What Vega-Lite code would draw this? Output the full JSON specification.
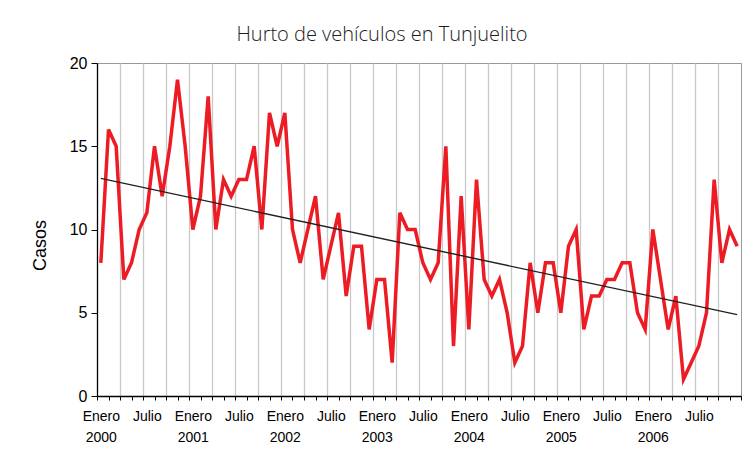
{
  "$schema": "https://vega.github.io/schema/vega-lite/v6.json",
  "autosize": {"type": "none"},
  "width": 644,
  "height": 333,
  "padding": {"left": 97, "top": 63, "right": 14, "bottom": 58},
  "background": "white",
  "config": {
    "view": {"stroke": "#999999", "strokeWidth": 1},
    "font": "Liberation Sans"
  },
  "title": {
    "text": "Hurto de vehículos en Tunjuelito",
    "font": "Open Sans",
    "fontSize": 20,
    "fontWeight": 300,
    "color": "#1a1a1a",
    "anchor": "middle",
    "frame": "group",
    "dx": -37,
    "offset": 10
  },
  "data": {
    "values": [
      {"mes": 0, "casos": 8}, {"mes": 1, "casos": 16}, {"mes": 2, "casos": 15}, {"mes": 3, "casos": 7},
      {"mes": 4, "casos": 8}, {"mes": 5, "casos": 10}, {"mes": 6, "casos": 11}, {"mes": 7, "casos": 15},
      {"mes": 8, "casos": 12}, {"mes": 9, "casos": 15}, {"mes": 10, "casos": 19}, {"mes": 11, "casos": 15},
      {"mes": 12, "casos": 10}, {"mes": 13, "casos": 12}, {"mes": 14, "casos": 18}, {"mes": 15, "casos": 10},
      {"mes": 16, "casos": 13}, {"mes": 17, "casos": 12}, {"mes": 18, "casos": 13}, {"mes": 19, "casos": 13},
      {"mes": 20, "casos": 15}, {"mes": 21, "casos": 10}, {"mes": 22, "casos": 17}, {"mes": 23, "casos": 15},
      {"mes": 24, "casos": 17}, {"mes": 25, "casos": 10}, {"mes": 26, "casos": 8}, {"mes": 27, "casos": 10},
      {"mes": 28, "casos": 12}, {"mes": 29, "casos": 7}, {"mes": 30, "casos": 9}, {"mes": 31, "casos": 11},
      {"mes": 32, "casos": 6}, {"mes": 33, "casos": 9}, {"mes": 34, "casos": 9}, {"mes": 35, "casos": 4},
      {"mes": 36, "casos": 7}, {"mes": 37, "casos": 7}, {"mes": 38, "casos": 2}, {"mes": 39, "casos": 11},
      {"mes": 40, "casos": 10}, {"mes": 41, "casos": 10}, {"mes": 42, "casos": 8}, {"mes": 43, "casos": 7},
      {"mes": 44, "casos": 8}, {"mes": 45, "casos": 15}, {"mes": 46, "casos": 3}, {"mes": 47, "casos": 12},
      {"mes": 48, "casos": 4}, {"mes": 49, "casos": 13}, {"mes": 50, "casos": 7}, {"mes": 51, "casos": 6},
      {"mes": 52, "casos": 7}, {"mes": 53, "casos": 5}, {"mes": 54, "casos": 2}, {"mes": 55, "casos": 3},
      {"mes": 56, "casos": 8}, {"mes": 57, "casos": 5}, {"mes": 58, "casos": 8}, {"mes": 59, "casos": 8},
      {"mes": 60, "casos": 5}, {"mes": 61, "casos": 9}, {"mes": 62, "casos": 10}, {"mes": 63, "casos": 4},
      {"mes": 64, "casos": 6}, {"mes": 65, "casos": 6}, {"mes": 66, "casos": 7}, {"mes": 67, "casos": 7},
      {"mes": 68, "casos": 8}, {"mes": 69, "casos": 8}, {"mes": 70, "casos": 5}, {"mes": 71, "casos": 4},
      {"mes": 72, "casos": 10}, {"mes": 73, "casos": 7}, {"mes": 74, "casos": 4}, {"mes": 75, "casos": 6},
      {"mes": 76, "casos": 1}, {"mes": 77, "casos": 2}, {"mes": 78, "casos": 3}, {"mes": 79, "casos": 5},
      {"mes": 80, "casos": 13}, {"mes": 81, "casos": 8}, {"mes": 82, "casos": 10}, {"mes": 83, "casos": 9}
    ]
  },
  "encoding": {
    "x": {
      "field": "mes",
      "type": "quantitative",
      "scale": {"domain": [-0.5, 83.5], "nice": false, "zero": false},
      "axis": {
        "title": null,
        "values": [-0.5, 0, 1, 2.5, 4, 5.5, 6, 7, 8.5, 10, 11.5, 12, 13, 14.5, 16, 17.5, 18, 19, 20.5, 22, 23.5, 24, 25, 26.5, 28, 29.5, 30, 31, 32.5, 34, 35.5, 36, 37, 38.5, 40, 41.5, 42, 43, 44.5, 46, 47.5, 48, 49, 50.5, 52, 53.5, 54, 55, 56.5, 58, 59.5, 60, 61, 62.5, 64, 65.5, 66, 67, 68.5, 70, 71.5, 72, 73, 74.5, 76, 77.5, 78, 79, 80.5, 82, 83.5],
        "domainColor": "#000000",
        "domainWidth": 1.3,
        "tickColor": "#000000",
        "tickSize": 4,
        "tickWidth": 1,
        "tickOpacity": {"condition": {"test": "(datum.value + 0.5) % 1.5 === 0", "value": 1}, "value": 0},
        "grid": true,
        "gridColor": "#c8c8c8",
        "gridWidth": 1.3,
        "gridOpacity": {"condition": {"test": "(datum.value + 0.5) % 3 === 0 && datum.value > 0 && datum.value < 83", "value": 1}, "value": 0},
        "labelExpr": "datum.value % 12 === 0 ? ['Enero', '' + (2000 + datum.value / 12)] : (datum.value % 12 === 6 ? 'Julio' : '')",
        "labelFont": "Liberation Sans",
        "labelFontSize": 14,
        "labelColor": "#000000",
        "labelLineHeight": 21,
        "labelPadding": 9,
        "labelOverlap": false,
        "labelFlush": false,
        "labelBound": false,
        "labelAngle": 0,
        "labelAlign": "center",
        "labelBaseline": "top"
      }
    },
    "y": {
      "field": "casos",
      "type": "quantitative",
      "scale": {"domain": [0, 20], "nice": false},
      "axis": {
        "title": "Casos",
        "titleFont": "Liberation Sans",
        "titleFontSize": 18,
        "titleFontWeight": "normal",
        "titleColor": "#000000",
        "titleX": -57,
        "titleY": 182,
        "titleAngle": -90,
        "titleAlign": "center",
        "titleBaseline": "middle",
        "values": [0, 5, 10, 15, 20],
        "grid": false,
        "domainColor": "#000000",
        "domainWidth": 1.3,
        "tickColor": "#000000",
        "tickSize": 6,
        "labelFont": "Liberation Sans",
        "labelFontSize": 16,
        "labelColor": "#000000",
        "labelPadding": 4
      }
    }
  },
  "layer": [
    {
      "mark": {"type": "line", "color": "#ed1c24", "strokeWidth": 3.5, "strokeJoin": "miter", "strokeMiterLimit": 4}
    },
    {
      "transform": [{"regression": "casos", "on": "mes"}],
      "mark": {"type": "line", "color": "#231f20", "strokeWidth": 1.4}
    }
  ]
}
